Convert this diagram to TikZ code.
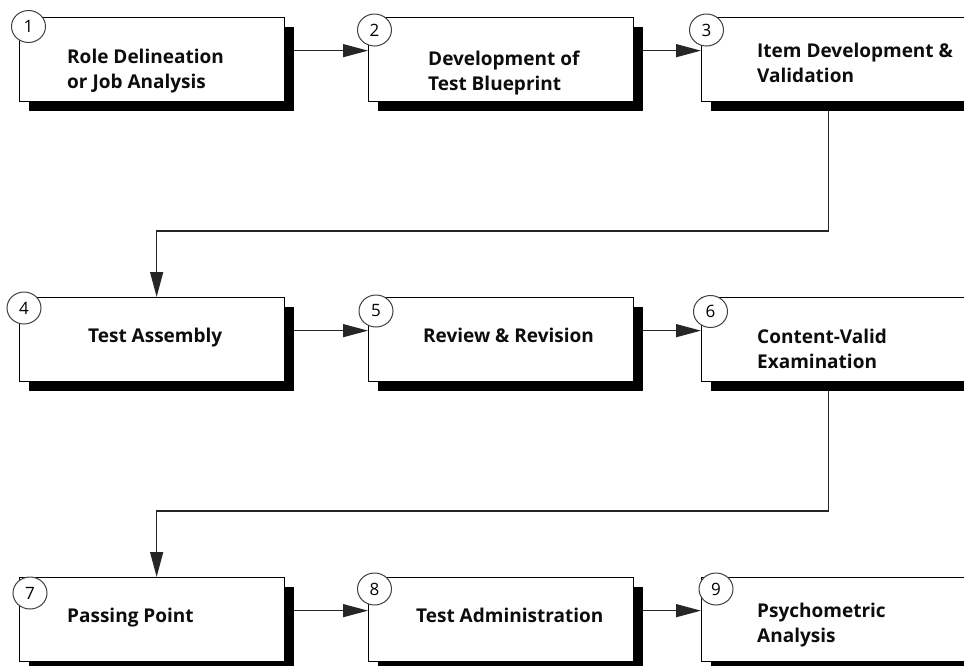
\documentclass[tikz,border=0pt]{standalone}
\usepackage{fontspec}
\setmainfont{Open Sans}
\usetikzlibrary{arrows.meta,shadows,shapes.geometric,backgrounds}
\begin{document}
\begin{tikzpicture}[x=1pt,y=-1pt,
  box/.style={draw=black, line width=1.3pt, fill=white, minimum width=265pt, minimum height=84pt,
    anchor=north west, inner sep=0pt,
    drop shadow={shadow xshift=9pt, shadow yshift=-9pt, opacity=1, fill=black}},
  num/.style={ellipse, draw=black!75, line width=1pt, fill=white, minimum width=34pt,
    minimum height=32pt, inner sep=0pt, font=\fontsize{17}{20}\selectfont},
  lbl/.style={anchor=base west, inner sep=0pt, font=\fontsize{19}{25.5}\selectfont\bfseries, text=black!95},
  conn/.style={draw=black!85, line width=1.3pt, -{Triangle[length=25pt,width=13pt]}}
]
\useasboundingbox (0,0) rectangle (964,665);
\clip (0,0) rectangle (964,665);

% boxes
\node[box] (b1) at (19,17) {};
\node[box] (b2) at (368,17) {};
\node[box] (b3) at (701,17) {};
\node[box] (b4) at (19,297) {};
\node[box] (b5) at (368,297) {};
\node[box] (b6) at (701,297) {};
\node[box] (b7) at (19,577) {};
\node[box] (b8) at (368,577) {};
\node[box] (b9) at (701,577) {};

% connectors
\begin{scope}[on background layer]
\draw[conn] ([yshift=9pt]b1.east) -- ([yshift=9pt]b2.west);
\draw[conn] ([yshift=9pt]b2.east) -- ([yshift=9pt]b3.west);
\draw[conn] ([yshift=9pt]b4.east) -- ([yshift=9pt]b5.west);
\draw[conn] ([yshift=9pt]b5.east) -- ([yshift=9pt]b6.west);
\draw[conn] ([yshift=9pt]b7.east) -- ([yshift=9pt]b8.west);
\draw[conn] ([yshift=9pt]b8.east) -- ([yshift=9pt]b9.west);
\coordinate (m1) at (0,231);
\coordinate (m2) at (0,511);
\draw[conn] ([xshift=-5.5pt]b3.south) |- ([xshift=4.5pt]b4.north |- m1) -- ([xshift=4.5pt]b4.north);
\draw[conn] ([xshift=-5.5pt]b6.south) |- ([xshift=4.5pt]b7.north |- m2) -- ([xshift=4.5pt]b7.north);
\end{scope}

% numbers
\node[num] (n1) at (28.5,26.5) {1};
\node[num] (n2) at (374.5,30) {2};
\node[num] (n3) at (706.5,30) {3};
\node[num] (n4) at (24,308) {4};
\node[num] (n5) at (376,311) {5};
\node[num] (n6) at (710.5,311.5) {6};
\node[num] (n7) at (30,593) {7};
\node[num] (n8) at (374.5,589) {8};
\node[num] (n9) at (716,589) {9};

% labels
\node[lbl] (t1) at (67,63) {\begin{tabular}[t]{@{}l@{}}Role Delineation\\or Job Analysis\end{tabular}};
\node[lbl] (t2) at (428,65) {\begin{tabular}[t]{@{}l@{}}Development of\\Test Blueprint\end{tabular}};
\node[lbl] (t3) at (757,57) {\begin{tabular}[t]{@{}l@{}}Item Development \&\\Validation\end{tabular}};
\node[lbl] (t4) at (88,342) {Test Assembly};
\node[lbl] (t5) at (423,342) {Review \& Revision};
\node[lbl] (t6) at (757,343) {\begin{tabular}[t]{@{}l@{}}Content-Valid\\Examination\end{tabular}};
\node[lbl] (t7) at (67,622) {Passing Point};
\node[lbl] (t8) at (416,622) {Test Administration};
\node[lbl] (t9) at (757,617) {\begin{tabular}[t]{@{}l@{}}Psychometric\\Analysis\end{tabular}};
\end{tikzpicture}
\end{document}
